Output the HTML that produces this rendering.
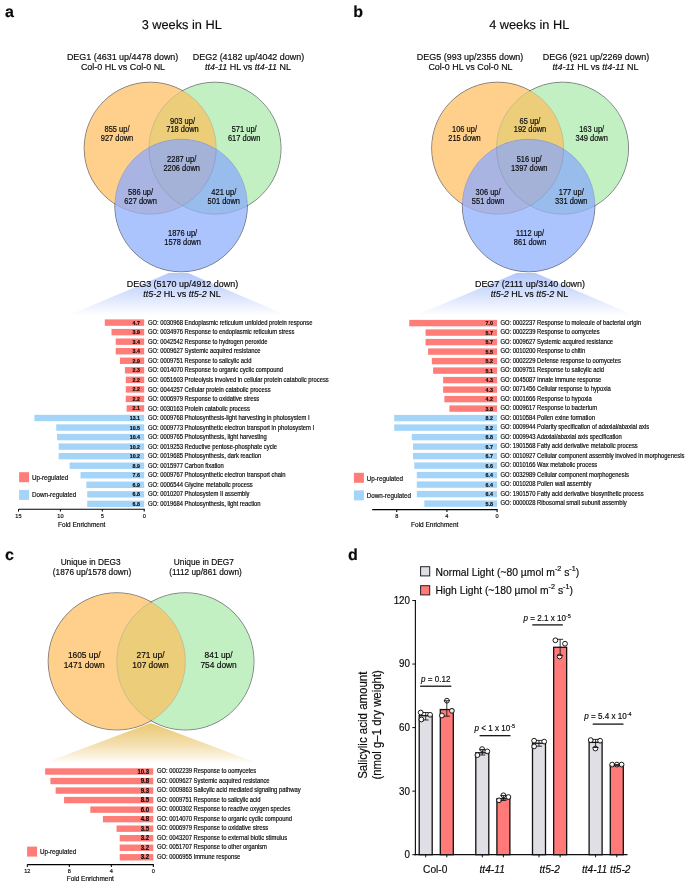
<!DOCTYPE html><html><head><meta charset="utf-8"><style>html,body{margin:0;padding:0;background:#fff;overflow:hidden}svg{display:block;font-family:"Liberation Sans",sans-serif;will-change:transform}text{fill:#0a0a0a;stroke:#0a0a0a;stroke-width:0.16px;transform-box:fill-box;transform-origin:50% 81%;transform:scaleY(1.09)}.ns text{transform:none}</style></head><body>
<svg width="685" height="882" viewBox="0 0 685 882">
<rect width="685" height="882" fill="#fff"/>
<g class="ns" text-rendering="geometricPrecision" font-size="16" font-weight="bold" fill="#000"><text x="4.9" y="17.4">a</text><text x="353.2" y="17.4">b</text><text x="4.9" y="560.2">c</text><text x="347.9" y="560.4">d</text></g>
<g class="ns" text-rendering="geometricPrecision" font-size="12.75" text-anchor="middle" fill="#111"><text x="181.7" y="29">3 weeks in HL</text><text x="529.2" y="29">4 weeks in HL</text></g>
<defs>
<clipPath id="cOa"><circle cx="150.2" cy="148.2" r="66" fill="#000" /></clipPath>
<clipPath id="cGa"><circle cx="215" cy="148.2" r="66" fill="#000" /></clipPath>
<linearGradient id="funa" x1="0" y1="0" x2="0" y2="1"><stop offset="0" stop-color="#B4C8FB"/><stop offset="0.5" stop-color="#D6E1FC"/><stop offset="1" stop-color="#FFFFFF"/></linearGradient>
</defs>
<polygon points="169,273 188,273 287,315.5 68,315.5" fill="url(#funa)"/>
<circle cx="150.2" cy="148.2" r="66" fill="#FED08C" />
<circle cx="215" cy="148.2" r="66" fill="#C2F0C2" />
<circle cx="181.1" cy="205.5" r="66.3" fill="#ACC4FE" />
<g clip-path="url(#cOa)"><circle cx="215" cy="148.2" r="66" fill="#ECCD7A" /><circle cx="181.1" cy="205.5" r="66.3" fill="#AAB4E2" /></g>
<g clip-path="url(#cGa)"><circle cx="181.1" cy="205.5" r="66.3" fill="#98BCEC" /></g>
<g clip-path="url(#cOa)"><g clip-path="url(#cGa)"><circle cx="181.1" cy="205.5" r="66.3" fill="#A4B2D8" /></g></g>
<circle cx="150.2" cy="148.2" r="66" fill="none" stroke="rgba(70,70,110,0.22)" stroke-width="0.8"/>
<circle cx="215" cy="148.2" r="66" fill="none" stroke="rgba(70,70,110,0.22)" stroke-width="0.8"/>
<circle cx="181.1" cy="205.5" r="66.3" fill="none" stroke="rgba(70,70,110,0.22)" stroke-width="0.8"/>
<defs><mask id="outera" maskUnits="userSpaceOnUse" x="0" y="0" width="685" height="882"><rect width="685" height="882" fill="#fff"/><circle cx="150.2" cy="148.2" r="65.55" fill="#000" /><circle cx="215" cy="148.2" r="65.55" fill="#000" /><circle cx="181.1" cy="205.5" r="65.85" fill="#000" /></mask></defs>
<g mask="url(#outera)">
<circle cx="150.2" cy="148.2" r="66" fill="none" stroke="rgba(60,60,60,0.6)" stroke-width="0.9"/>
<circle cx="215" cy="148.2" r="66" fill="none" stroke="rgba(60,60,60,0.6)" stroke-width="0.9"/>
<circle cx="181.1" cy="205.5" r="66.3" fill="none" stroke="rgba(60,60,60,0.6)" stroke-width="0.9"/>
</g>
<g font-size="8.95" text-anchor="middle" fill="#111">
<text x="122.6" y="59.8">DEG1 (4631 up/4478 down)</text>
<text x="123" y="69.6">Col-0 HL vs Col-0 NL</text>
<text x="248.5" y="60">DEG2 (4182 up/4042 down)</text>
<text x="248" y="69.8"><tspan font-style="italic">tt4-11</tspan> HL vs <tspan font-style="italic">tt4-11</tspan> NL</text>
<text x="182.5" y="286.9">DEG3 (5170 up/4912 down)</text>
<text x="182" y="297"><tspan font-style="italic">tt5-2</tspan> HL vs <tspan font-style="italic">tt5-2</tspan> NL</text>
</g>
<g font-size="7.5" text-anchor="middle" fill="#111">
<text x="117" y="132.5">855 up/</text>
<text x="117" y="141.4">927 down</text>
<text x="182.5" y="123.6">903 up/</text>
<text x="182.5" y="132.5">718 down</text>
<text x="244.2" y="132.5">571 up/</text>
<text x="244.2" y="141.4">617 down</text>
<text x="181.7" y="161.9">2287 up/</text>
<text x="181.7" y="170.8">2206 down</text>
<text x="140.6" y="194.7">586 up/</text>
<text x="140.6" y="203.6">627 down</text>
<text x="223.8" y="194.7">421 up/</text>
<text x="223.8" y="203.6">501 down</text>
<text x="182.6" y="236.2">1876 up/</text>
<text x="182.6" y="245.1">1578 down</text>
</g>
<defs>
<clipPath id="cOb"><circle cx="497.7" cy="148.2" r="66" fill="#000" /></clipPath>
<clipPath id="cGb"><circle cx="562.5" cy="148.2" r="66" fill="#000" /></clipPath>
<linearGradient id="funb" x1="0" y1="0" x2="0" y2="1"><stop offset="0" stop-color="#B4C8FB"/><stop offset="0.5" stop-color="#D6E1FC"/><stop offset="1" stop-color="#FFFFFF"/></linearGradient>
</defs>
<polygon points="516.5,273 535.5,273 634.5,315.5 415.5,315.5" fill="url(#funb)"/>
<circle cx="497.7" cy="148.2" r="66" fill="#FED08C" />
<circle cx="562.5" cy="148.2" r="66" fill="#C2F0C2" />
<circle cx="528.6" cy="205.5" r="66.3" fill="#ACC4FE" />
<g clip-path="url(#cOb)"><circle cx="562.5" cy="148.2" r="66" fill="#ECCD7A" /><circle cx="528.6" cy="205.5" r="66.3" fill="#AAB4E2" /></g>
<g clip-path="url(#cGb)"><circle cx="528.6" cy="205.5" r="66.3" fill="#98BCEC" /></g>
<g clip-path="url(#cOb)"><g clip-path="url(#cGb)"><circle cx="528.6" cy="205.5" r="66.3" fill="#A4B2D8" /></g></g>
<circle cx="497.7" cy="148.2" r="66" fill="none" stroke="rgba(70,70,110,0.22)" stroke-width="0.8"/>
<circle cx="562.5" cy="148.2" r="66" fill="none" stroke="rgba(70,70,110,0.22)" stroke-width="0.8"/>
<circle cx="528.6" cy="205.5" r="66.3" fill="none" stroke="rgba(70,70,110,0.22)" stroke-width="0.8"/>
<defs><mask id="outerb" maskUnits="userSpaceOnUse" x="0" y="0" width="685" height="882"><rect width="685" height="882" fill="#fff"/><circle cx="497.7" cy="148.2" r="65.55" fill="#000" /><circle cx="562.5" cy="148.2" r="65.55" fill="#000" /><circle cx="528.6" cy="205.5" r="65.85" fill="#000" /></mask></defs>
<g mask="url(#outerb)">
<circle cx="497.7" cy="148.2" r="66" fill="none" stroke="rgba(60,60,60,0.6)" stroke-width="0.9"/>
<circle cx="562.5" cy="148.2" r="66" fill="none" stroke="rgba(60,60,60,0.6)" stroke-width="0.9"/>
<circle cx="528.6" cy="205.5" r="66.3" fill="none" stroke="rgba(60,60,60,0.6)" stroke-width="0.9"/>
</g>
<g font-size="8.95" text-anchor="middle" fill="#111">
<text x="470.1" y="59.8">DEG5 (993 up/2355 down)</text>
<text x="470.5" y="69.6">Col-0 HL vs Col-0 NL</text>
<text x="596" y="60">DEG6 (921 up/2269 down)</text>
<text x="595.5" y="69.8"><tspan font-style="italic">tt4-11</tspan> HL vs <tspan font-style="italic">tt4-11</tspan> NL</text>
<text x="530" y="286.9">DEG7 (2111 up/3140 down)</text>
<text x="529.5" y="297"><tspan font-style="italic">tt5-2</tspan> HL vs <tspan font-style="italic">tt5-2</tspan> NL</text>
</g>
<g font-size="7.5" text-anchor="middle" fill="#111">
<text x="464.5" y="132.5">106 up/</text>
<text x="464.5" y="141.4">215 down</text>
<text x="530" y="123.6">65 up/</text>
<text x="530" y="132.5">192 down</text>
<text x="591.7" y="132.5">163 up/</text>
<text x="591.7" y="141.4">349 down</text>
<text x="529.2" y="161.9">516 up/</text>
<text x="529.2" y="170.8">1397 down</text>
<text x="488.1" y="194.7">306 up/</text>
<text x="488.1" y="203.6">551 down</text>
<text x="571.3" y="194.7">177 up/</text>
<text x="571.3" y="203.6">331 down</text>
<text x="530.1" y="236.2">1112 up/</text>
<text x="530.1" y="245.1">861 down</text>
</g>
<rect x="104.81" y="319.4" width="39.39" height="6.4" fill="#FF7D78"/>
<text x="140" y="324.6" font-size="5.3" font-weight="bold" text-anchor="end" fill="#111">4.7</text>
<text x="147.9" y="324.7" font-size="5.85" fill="#111">GO: 0030968 Endoplasmic reticulum unfolded protein response</text>
<rect x="111.52" y="328.94" width="32.68" height="6.4" fill="#FF7D78"/>
<text x="140" y="334.14" font-size="5.3" font-weight="bold" text-anchor="end" fill="#111">3.9</text>
<text x="147.9" y="334.24" font-size="5.85" fill="#111">GO: 0034976 Response to endoplasmic reticulum stress</text>
<rect x="115.71" y="338.48" width="28.49" height="6.4" fill="#FF7D78"/>
<text x="140" y="343.68" font-size="5.3" font-weight="bold" text-anchor="end" fill="#111">3.4</text>
<text x="147.9" y="343.78" font-size="5.85" fill="#111">GO: 0042542 Response to hydrogen peroxide</text>
<rect x="115.71" y="348.02" width="28.49" height="6.4" fill="#FF7D78"/>
<text x="140" y="353.22" font-size="5.3" font-weight="bold" text-anchor="end" fill="#111">3.4</text>
<text x="147.9" y="353.32" font-size="5.85" fill="#111">GO: 0009627 Systemic acquired resistance</text>
<rect x="119.9" y="357.56" width="24.3" height="6.4" fill="#FF7D78"/>
<text x="140" y="362.76" font-size="5.3" font-weight="bold" text-anchor="end" fill="#111">2.9</text>
<text x="147.9" y="362.86" font-size="5.85" fill="#111">GO: 0009751 Response to salicylic acid</text>
<rect x="124.93" y="367.1" width="19.27" height="6.4" fill="#FF7D78"/>
<text x="140" y="372.3" font-size="5.3" font-weight="bold" text-anchor="end" fill="#111">2.3</text>
<text x="147.9" y="372.4" font-size="5.85" fill="#111">GO: 0014070 Response to organic cyclic compound</text>
<rect x="125.76" y="376.64" width="18.44" height="6.4" fill="#FF7D78"/>
<text x="140" y="381.84" font-size="5.3" font-weight="bold" text-anchor="end" fill="#111">2.2</text>
<text x="147.9" y="381.94" font-size="5.85" fill="#111">GO: 0051603 Proteolysis involved in cellular protein catabolic process</text>
<rect x="125.76" y="386.18" width="18.44" height="6.4" fill="#FF7D78"/>
<text x="140" y="391.38" font-size="5.3" font-weight="bold" text-anchor="end" fill="#111">2.2</text>
<text x="147.9" y="391.48" font-size="5.85" fill="#111">GO: 0044257 Cellular protein catabolic process</text>
<rect x="125.76" y="395.72" width="18.44" height="6.4" fill="#FF7D78"/>
<text x="140" y="400.92" font-size="5.3" font-weight="bold" text-anchor="end" fill="#111">2.2</text>
<text x="147.9" y="401.02" font-size="5.85" fill="#111">GO: 0006979 Response to oxidative stress</text>
<rect x="126.6" y="405.26" width="17.6" height="6.4" fill="#FF7D78"/>
<text x="140" y="410.46" font-size="5.3" font-weight="bold" text-anchor="end" fill="#111">2.1</text>
<text x="147.9" y="410.56" font-size="5.85" fill="#111">GO: 0030163 Protein catabolic process</text>
<rect x="34.42" y="414.8" width="109.78" height="6.4" fill="#A4D4F8"/>
<text x="140" y="420" font-size="5.3" font-weight="bold" text-anchor="end" fill="#111">13.1</text>
<text x="147.9" y="420.1" font-size="5.85" fill="#111">GO: 0009768 Photosynthesis-light harvesting in photosystem I</text>
<rect x="56.21" y="424.34" width="87.99" height="6.4" fill="#A4D4F8"/>
<text x="140" y="429.54" font-size="5.3" font-weight="bold" text-anchor="end" fill="#111">10.5</text>
<text x="147.9" y="429.64" font-size="5.85" fill="#111">GO: 0009773 Photosynthetic electron transport in photosystem I</text>
<rect x="57.05" y="433.88" width="87.15" height="6.4" fill="#A4D4F8"/>
<text x="140" y="439.08" font-size="5.3" font-weight="bold" text-anchor="end" fill="#111">10.4</text>
<text x="147.9" y="439.18" font-size="5.85" fill="#111">GO: 0009765 Photosynthesis, light harvesting</text>
<rect x="58.72" y="443.42" width="85.48" height="6.4" fill="#A4D4F8"/>
<text x="140" y="448.62" font-size="5.3" font-weight="bold" text-anchor="end" fill="#111">10.2</text>
<text x="147.9" y="448.72" font-size="5.85" fill="#111">GO: 0019253 Reductive pentose-phosphate cycle</text>
<rect x="58.72" y="452.96" width="85.48" height="6.4" fill="#A4D4F8"/>
<text x="140" y="458.16" font-size="5.3" font-weight="bold" text-anchor="end" fill="#111">10.2</text>
<text x="147.9" y="458.26" font-size="5.85" fill="#111">GO: 0019685 Photosynthesis, dark reaction</text>
<rect x="69.62" y="462.5" width="74.58" height="6.4" fill="#A4D4F8"/>
<text x="140" y="467.7" font-size="5.3" font-weight="bold" text-anchor="end" fill="#111">8.9</text>
<text x="147.9" y="467.8" font-size="5.85" fill="#111">GO: 0015977 Carbon fixation</text>
<rect x="80.51" y="472.04" width="63.69" height="6.4" fill="#A4D4F8"/>
<text x="140" y="477.24" font-size="5.3" font-weight="bold" text-anchor="end" fill="#111">7.6</text>
<text x="147.9" y="477.34" font-size="5.85" fill="#111">GO: 0009767 Photosynthetic electron transport chain</text>
<rect x="86.38" y="481.58" width="57.82" height="6.4" fill="#A4D4F8"/>
<text x="140" y="486.78" font-size="5.3" font-weight="bold" text-anchor="end" fill="#111">6.9</text>
<text x="147.9" y="486.88" font-size="5.85" fill="#111">GO: 0006544 Glycine metabolic process</text>
<rect x="87.22" y="491.12" width="56.98" height="6.4" fill="#A4D4F8"/>
<text x="140" y="496.32" font-size="5.3" font-weight="bold" text-anchor="end" fill="#111">6.8</text>
<text x="147.9" y="496.42" font-size="5.85" fill="#111">GO: 0010207 Photosystem II assembly</text>
<rect x="87.22" y="500.66" width="56.98" height="6.4" fill="#A4D4F8"/>
<text x="140" y="505.86" font-size="5.3" font-weight="bold" text-anchor="end" fill="#111">6.8</text>
<text x="147.9" y="505.96" font-size="5.85" fill="#111">GO: 0019684 Photosynthesis, light reaction</text>
<line x1="18.5" y1="509.2" x2="144.7" y2="509.2" stroke="#000" stroke-width="1.1"/>
<line x1="18.5" y1="509.2" x2="18.5" y2="511.6" stroke="#000" stroke-width="1.05"/>
<text x="18.5" y="517.6" font-size="5.6" text-anchor="middle" fill="#111">15</text>
<line x1="60.4" y1="509.2" x2="60.4" y2="511.6" stroke="#000" stroke-width="1.05"/>
<text x="60.4" y="517.6" font-size="5.6" text-anchor="middle" fill="#111">10</text>
<line x1="102.3" y1="509.2" x2="102.3" y2="511.6" stroke="#000" stroke-width="1.05"/>
<text x="102.3" y="517.6" font-size="5.6" text-anchor="middle" fill="#111">5</text>
<line x1="144.2" y1="509.2" x2="144.2" y2="511.6" stroke="#000" stroke-width="1.05"/>
<text x="144.2" y="517.6" font-size="5.6" text-anchor="middle" fill="#111">0</text>
<text x="81.7" y="526.5" font-size="6.5" text-anchor="middle" fill="#111">Fold Enrichment</text>
<rect x="19.1" y="472.2" width="10" height="10" fill="#FF7D78"/>
<text x="31.9" y="480.1" font-size="6.3" fill="#111">Up-regulated</text>
<rect x="19.1" y="489.9" width="10" height="10" fill="#A4D4F8"/>
<text x="31.9" y="497.2" font-size="6.3" fill="#111">Down-regulated</text>
<rect x="409.25" y="319.9" width="87.85" height="6.4" fill="#FF7D78"/>
<text x="492.9" y="325.1" font-size="5.3" font-weight="bold" text-anchor="end" fill="#111">7.0</text>
<text x="500.4" y="324.7" font-size="5.85" fill="#111">GO: 0002237 Response to molecule of bacterial origin</text>
<rect x="425.56" y="329.4" width="71.54" height="6.4" fill="#FF7D78"/>
<text x="492.9" y="334.6" font-size="5.3" font-weight="bold" text-anchor="end" fill="#111">5.7</text>
<text x="500.4" y="334.2" font-size="5.85" fill="#111">GO: 0002239 Response to oomycetes</text>
<rect x="425.56" y="338.9" width="71.54" height="6.4" fill="#FF7D78"/>
<text x="492.9" y="344.1" font-size="5.3" font-weight="bold" text-anchor="end" fill="#111">5.7</text>
<text x="500.4" y="343.7" font-size="5.85" fill="#111">GO: 0009627 Systemic acquired resistance</text>
<rect x="428.08" y="348.4" width="69.03" height="6.4" fill="#FF7D78"/>
<text x="492.9" y="353.6" font-size="5.3" font-weight="bold" text-anchor="end" fill="#111">5.5</text>
<text x="500.4" y="353.2" font-size="5.85" fill="#111">GO: 0010200 Response to chitin</text>
<rect x="431.84" y="357.9" width="65.26" height="6.4" fill="#FF7D78"/>
<text x="492.9" y="363.1" font-size="5.3" font-weight="bold" text-anchor="end" fill="#111">5.2</text>
<text x="500.4" y="362.7" font-size="5.85" fill="#111">GO: 0002229 Defense response to oomycetes</text>
<rect x="433.1" y="367.4" width="64" height="6.4" fill="#FF7D78"/>
<text x="492.9" y="372.6" font-size="5.3" font-weight="bold" text-anchor="end" fill="#111">5.1</text>
<text x="500.4" y="372.2" font-size="5.85" fill="#111">GO: 0009751 Response to salicylic acid</text>
<rect x="443.13" y="376.9" width="53.97" height="6.4" fill="#FF7D78"/>
<text x="492.9" y="382.1" font-size="5.3" font-weight="bold" text-anchor="end" fill="#111">4.3</text>
<text x="500.4" y="381.7" font-size="5.85" fill="#111">GO: 0045087 Innate immune response</text>
<rect x="443.13" y="386.4" width="53.97" height="6.4" fill="#FF7D78"/>
<text x="492.9" y="391.6" font-size="5.3" font-weight="bold" text-anchor="end" fill="#111">4.3</text>
<text x="500.4" y="391.2" font-size="5.85" fill="#111">GO: 0071456 Cellular response to hypoxia</text>
<rect x="444.39" y="395.9" width="52.71" height="6.4" fill="#FF7D78"/>
<text x="492.9" y="401.1" font-size="5.3" font-weight="bold" text-anchor="end" fill="#111">4.2</text>
<text x="500.4" y="400.7" font-size="5.85" fill="#111">GO: 0001666 Response to hypoxia</text>
<rect x="449.41" y="405.4" width="47.69" height="6.4" fill="#FF7D78"/>
<text x="492.9" y="410.6" font-size="5.3" font-weight="bold" text-anchor="end" fill="#111">3.8</text>
<text x="500.4" y="410.2" font-size="5.85" fill="#111">GO: 0009617 Response to bacterium</text>
<rect x="394.19" y="414.9" width="102.91" height="6.4" fill="#A4D4F8"/>
<text x="492.9" y="420.1" font-size="5.3" font-weight="bold" text-anchor="end" fill="#111">8.2</text>
<text x="500.4" y="419.7" font-size="5.85" fill="#111">GO: 0010584 Pollen exine formation</text>
<rect x="394.19" y="424.4" width="102.91" height="6.4" fill="#A4D4F8"/>
<text x="492.9" y="429.6" font-size="5.3" font-weight="bold" text-anchor="end" fill="#111">8.2</text>
<text x="500.4" y="429.2" font-size="5.85" fill="#111">GO: 0009944 Polarity specification of adaxial/abaxial axis</text>
<rect x="411.76" y="433.9" width="85.34" height="6.4" fill="#A4D4F8"/>
<text x="492.9" y="439.1" font-size="5.3" font-weight="bold" text-anchor="end" fill="#111">6.8</text>
<text x="500.4" y="438.7" font-size="5.85" fill="#111">GO: 0009943 Adaxial/abaxial axis specification</text>
<rect x="413.01" y="443.4" width="84.09" height="6.4" fill="#A4D4F8"/>
<text x="492.9" y="448.6" font-size="5.3" font-weight="bold" text-anchor="end" fill="#111">6.7</text>
<text x="500.4" y="448.2" font-size="5.85" fill="#111">GO: 1901568 Fatty acid derivative metabolic process</text>
<rect x="413.01" y="452.9" width="84.09" height="6.4" fill="#A4D4F8"/>
<text x="492.9" y="458.1" font-size="5.3" font-weight="bold" text-anchor="end" fill="#111">6.7</text>
<text x="500.4" y="457.7" font-size="5.85" fill="#111">GO: 0010927 Cellular component assembly involved in morphogenesis</text>
<rect x="414.27" y="462.4" width="82.83" height="6.4" fill="#A4D4F8"/>
<text x="492.9" y="467.6" font-size="5.3" font-weight="bold" text-anchor="end" fill="#111">6.6</text>
<text x="500.4" y="467.2" font-size="5.85" fill="#111">GO: 0010166 Wax metabolic process</text>
<rect x="416.78" y="471.9" width="80.32" height="6.4" fill="#A4D4F8"/>
<text x="492.9" y="477.1" font-size="5.3" font-weight="bold" text-anchor="end" fill="#111">6.4</text>
<text x="500.4" y="476.7" font-size="5.85" fill="#111">GO: 0032989 Cellular component morphogenesis</text>
<rect x="416.78" y="481.4" width="80.32" height="6.4" fill="#A4D4F8"/>
<text x="492.9" y="486.6" font-size="5.3" font-weight="bold" text-anchor="end" fill="#111">6.4</text>
<text x="500.4" y="486.2" font-size="5.85" fill="#111">GO: 0010208 Pollen wall assembly</text>
<rect x="416.78" y="490.9" width="80.32" height="6.4" fill="#A4D4F8"/>
<text x="492.9" y="496.1" font-size="5.3" font-weight="bold" text-anchor="end" fill="#111">6.4</text>
<text x="500.4" y="495.7" font-size="5.85" fill="#111">GO: 1901570 Fatty acid derivative biosynthetic process</text>
<rect x="424.31" y="500.4" width="72.79" height="6.4" fill="#A4D4F8"/>
<text x="492.9" y="505.6" font-size="5.3" font-weight="bold" text-anchor="end" fill="#111">5.8</text>
<text x="500.4" y="505.2" font-size="5.85" fill="#111">GO: 0000028 Ribosomal small subunit assembly</text>
<line x1="372.2" y1="509.6" x2="497.6" y2="509.6" stroke="#000" stroke-width="1.1"/>
<line x1="396.7" y1="509.6" x2="396.7" y2="512" stroke="#000" stroke-width="1.05"/>
<text x="396.7" y="517.6" font-size="5.6" text-anchor="middle" fill="#111">8</text>
<line x1="446.9" y1="509.6" x2="446.9" y2="512" stroke="#000" stroke-width="1.05"/>
<text x="446.9" y="517.6" font-size="5.6" text-anchor="middle" fill="#111">4</text>
<line x1="497.1" y1="509.6" x2="497.1" y2="512" stroke="#000" stroke-width="1.05"/>
<text x="497.1" y="517.6" font-size="5.6" text-anchor="middle" fill="#111">0</text>
<text x="434.7" y="527.1" font-size="6.5" text-anchor="middle" fill="#111">Fold Enrichment</text>
<rect x="353.9" y="472.8" width="10" height="10" fill="#FF7D78"/>
<text x="366.7" y="480.7" font-size="6.3" fill="#111">Up-regulated</text>
<rect x="353.9" y="490.4" width="10" height="10" fill="#A4D4F8"/>
<text x="366.7" y="497.7" font-size="6.3" fill="#111">Down-regulated</text>
<defs><linearGradient id="func" gradientUnits="userSpaceOnUse" x1="0" y1="726" x2="0" y2="764"><stop offset="0" stop-color="#ECCB78"/><stop offset="0.5" stop-color="#F4E0B0"/><stop offset="1" stop-color="#FFFFFF"/></linearGradient></defs>
<polygon points="150.8,723 255.8,762.5 45.8,762.5" fill="url(#func)"/>
<defs><clipPath id="cOc"><circle cx="116.8" cy="661.35" r="68.6"/></clipPath></defs>
<circle cx="116.8" cy="661.35" r="68.6" fill="#FED08C"/>
<circle cx="185.4" cy="661.35" r="68.6" fill="#C2F0C2"/>
<circle cx="185.4" cy="661.35" r="68.6" fill="#ECCD7A" clip-path="url(#cOc)"/>
<circle cx="116.8" cy="661.35" r="68.6" fill="none" stroke="rgba(70,70,110,0.22)" stroke-width="0.8"/>
<circle cx="185.4" cy="661.35" r="68.6" fill="none" stroke="rgba(70,70,110,0.22)" stroke-width="0.8"/>
<defs><mask id="outerc" maskUnits="userSpaceOnUse" x="0" y="0" width="685" height="882"><rect width="685" height="882" fill="#fff"/><circle cx="116.8" cy="661.35" r="68.14999999999999"/><circle cx="185.4" cy="661.35" r="68.14999999999999"/></mask></defs>
<g mask="url(#outerc)">
<circle cx="116.8" cy="661.35" r="68.6" fill="none" stroke="rgba(60,60,60,0.6)" stroke-width="0.9"/>
<circle cx="185.4" cy="661.35" r="68.6" fill="none" stroke="rgba(60,60,60,0.6)" stroke-width="0.9"/>
</g>
<g font-size="8.3" text-anchor="middle" fill="#111"><text x="90.6" y="565.5">Unique in DEG3</text><text x="92" y="575.1">(1876 up/1578 down)</text><text x="203.8" y="565.5">Unique in DEG7</text><text x="205.5" y="575.1">(1112 up/861 down)</text></g>
<g font-size="8.4" text-anchor="middle" fill="#111">
<text x="84.2" y="657.9">1605 up/</text><text x="84.2" y="667.7">1471 down</text>
<text x="150.5" y="657.9">271 up/</text><text x="150.5" y="667.7">107 down</text>
<text x="218.6" y="657.9">841 up/</text><text x="218.6" y="667.7">754 down</text>
</g>
<rect x="45.15" y="768.3" width="108.15" height="6.4" fill="#FF7D78"/>
<text x="149.1" y="773.5" font-size="6" font-weight="bold" text-anchor="end" fill="#111">10.3</text>
<text x="156.9" y="773.1" font-size="5.85" fill="#111">GO: 0002239 Response to oomycetes</text>
<rect x="50.4" y="777.83" width="102.9" height="6.4" fill="#FF7D78"/>
<text x="149.1" y="783.03" font-size="6" font-weight="bold" text-anchor="end" fill="#111">9.8</text>
<text x="156.9" y="782.63" font-size="5.85" fill="#111">GO: 0009627 Systemic acquired resistance</text>
<rect x="55.65" y="787.36" width="97.65" height="6.4" fill="#FF7D78"/>
<text x="149.1" y="792.56" font-size="6" font-weight="bold" text-anchor="end" fill="#111">9.3</text>
<text x="156.9" y="792.16" font-size="5.85" fill="#111">GO: 0009863 Salicylic acid mediated signaling pathway</text>
<rect x="64.05" y="796.89" width="89.25" height="6.4" fill="#FF7D78"/>
<text x="149.1" y="802.09" font-size="6" font-weight="bold" text-anchor="end" fill="#111">8.5</text>
<text x="156.9" y="801.69" font-size="5.85" fill="#111">GO: 0009751 Response to salicylic acid</text>
<rect x="90.3" y="806.42" width="63" height="6.4" fill="#FF7D78"/>
<text x="149.1" y="811.62" font-size="6" font-weight="bold" text-anchor="end" fill="#111">6.0</text>
<text x="156.9" y="811.22" font-size="5.85" fill="#111">GO: 0000302 Response to reactive oxygen species</text>
<rect x="102.9" y="815.95" width="50.4" height="6.4" fill="#FF7D78"/>
<text x="149.1" y="821.15" font-size="6" font-weight="bold" text-anchor="end" fill="#111">4.8</text>
<text x="156.9" y="820.75" font-size="5.85" fill="#111">GO: 0014070 Response to organic cyclic compound</text>
<rect x="116.55" y="825.48" width="36.75" height="6.4" fill="#FF7D78"/>
<text x="149.1" y="830.68" font-size="6" font-weight="bold" text-anchor="end" fill="#111">3.5</text>
<text x="156.9" y="830.28" font-size="5.85" fill="#111">GO: 0006979 Response to oxidative stress</text>
<rect x="119.7" y="835.01" width="33.6" height="6.4" fill="#FF7D78"/>
<text x="149.1" y="840.21" font-size="6" font-weight="bold" text-anchor="end" fill="#111">3.2</text>
<text x="156.9" y="839.81" font-size="5.85" fill="#111">GO: 0043207 Response to external biotic stimulus</text>
<rect x="119.7" y="844.54" width="33.6" height="6.4" fill="#FF7D78"/>
<text x="149.1" y="849.74" font-size="6" font-weight="bold" text-anchor="end" fill="#111">3.2</text>
<text x="156.9" y="849.34" font-size="5.85" fill="#111">GO: 0051707 Response to other organism</text>
<rect x="119.7" y="854.07" width="33.6" height="6.4" fill="#FF7D78"/>
<text x="149.1" y="859.27" font-size="6" font-weight="bold" text-anchor="end" fill="#111">3.2</text>
<text x="156.9" y="858.87" font-size="5.85" fill="#111">GO: 0006955 Immune response</text>
<line x1="27.3" y1="864.6" x2="153.8" y2="864.6" stroke="#000" stroke-width="1.1"/>
<line x1="27.3" y1="864.6" x2="27.3" y2="867" stroke="#000" stroke-width="1.05"/>
<text x="27.3" y="872.6" font-size="5.6" text-anchor="middle" fill="#111">12</text>
<line x1="69.3" y1="864.6" x2="69.3" y2="867" stroke="#000" stroke-width="1.05"/>
<text x="69.3" y="872.6" font-size="5.6" text-anchor="middle" fill="#111">8</text>
<line x1="111.3" y1="864.6" x2="111.3" y2="867" stroke="#000" stroke-width="1.05"/>
<text x="111.3" y="872.6" font-size="5.6" text-anchor="middle" fill="#111">4</text>
<line x1="153.3" y1="864.6" x2="153.3" y2="867" stroke="#000" stroke-width="1.05"/>
<text x="153.3" y="872.6" font-size="5.6" text-anchor="middle" fill="#111">0</text>
<text x="90.3" y="881.2" font-size="6.5" text-anchor="middle" fill="#111">Fold Enrichment</text>
<rect x="27.1" y="846.6" width="10" height="10" fill="#FF7D78"/>
<text x="39.9" y="854.5" font-size="6.3" fill="#111">Up-regulated</text>
<g id="d">
<rect x="420.6" y="566.7" width="9.1" height="9.2" fill="#E0DFE6" stroke="#222" stroke-width="1"/>
<rect x="420.6" y="585.7" width="9.1" height="9.2" fill="#FF7A78" stroke="#222" stroke-width="1"/>
<text x="435.5" y="575.6" font-size="10.35" fill="#111">Normal Light (~80 µmol m<tspan font-size="7.2" dy="-4.2">-2</tspan><tspan dy="4.2"> s</tspan><tspan font-size="7.2" dy="-4.2">-1</tspan><tspan dy="4.2">)</tspan></text>
<text x="435.5" y="593.6" font-size="10.35" fill="#111">High Light (~180 µmol m<tspan font-size="7.2" dy="-4.2">-2</tspan><tspan dy="4.2"> s</tspan><tspan font-size="7.2" dy="-4.2">-1</tspan><tspan dy="4.2">)</tspan></text>
<line x1="415.4" y1="600" x2="415.4" y2="855.3" stroke="#111" stroke-width="1.15"/>
<line x1="414.4" y1="854.7" x2="627.5" y2="854.7" stroke="#111" stroke-width="1.2"/>
<g font-size="9.8" text-anchor="end" fill="#111">
<line x1="412.3" y1="854.7" x2="415" y2="854.7" stroke="#111" stroke-width="1"/>
<text x="410.0" y="858.1">0</text>
<line x1="412.3" y1="791.15" x2="415" y2="791.15" stroke="#111" stroke-width="1"/>
<text x="410.0" y="794.55">30</text>
<line x1="412.3" y1="727.6" x2="415" y2="727.6" stroke="#111" stroke-width="1"/>
<text x="410.0" y="731">60</text>
<line x1="412.3" y1="664.05" x2="415" y2="664.05" stroke="#111" stroke-width="1"/>
<text x="410.0" y="667.45">90</text>
<line x1="412.3" y1="600.5" x2="415" y2="600.5" stroke="#111" stroke-width="1"/>
<text x="410.0" y="603.9">120</text>
</g>
<g transform="translate(367.3,725) rotate(-90)" font-size="11.35" text-anchor="middle" fill="#111"><text x="-0.2" y="0" font-size="11.5">Salicylic acid amount</text><text x="0.1" y="13.7" font-size="11.4">(nmol g–1 dry weight)</text></g>
<rect x="419.2" y="715.7" width="13" height="139" fill="#E0DFE6" stroke="#111" stroke-width="1.3"/>
<circle cx="420.7" cy="712.5" r="2.4" fill="#fff" fill-opacity="0.85" stroke="#111" stroke-width="0.95"/>
<circle cx="430.1" cy="714.8" r="2.4" fill="#fff" fill-opacity="0.85" stroke="#111" stroke-width="0.95"/>
<circle cx="421.4" cy="719.5" r="2.4" fill="#fff" fill-opacity="0.85" stroke="#111" stroke-width="0.95"/>
<line x1="425.7" y1="712.5" x2="425.7" y2="720" stroke="#111" stroke-width="0.85"/>
<line x1="422.7" y1="712.5" x2="428.7" y2="712.5" stroke="#111" stroke-width="0.85"/>
<line x1="422.7" y1="720" x2="428.7" y2="720" stroke="#111" stroke-width="0.85"/>
<line x1="425.7" y1="854.7" x2="425.7" y2="857.3" stroke="#111" stroke-width="1"/>
<rect x="440.3" y="709.56" width="13" height="145.14" fill="#FF7A78" stroke="#111" stroke-width="1.3"/>
<circle cx="446.9" cy="700.7" r="2.4" fill="#fff" fill-opacity="0.85" stroke="#111" stroke-width="0.95"/>
<circle cx="451.9" cy="710.8" r="2.4" fill="#fff" fill-opacity="0.85" stroke="#111" stroke-width="0.95"/>
<circle cx="441.9" cy="715.5" r="2.4" fill="#fff" fill-opacity="0.85" stroke="#111" stroke-width="0.95"/>
<line x1="446.8" y1="700.7" x2="446.8" y2="716.2" stroke="#111" stroke-width="0.85"/>
<line x1="443.8" y1="700.7" x2="449.8" y2="700.7" stroke="#111" stroke-width="0.85"/>
<line x1="443.8" y1="716.2" x2="449.8" y2="716.2" stroke="#111" stroke-width="0.85"/>
<line x1="446.8" y1="854.7" x2="446.8" y2="857.3" stroke="#111" stroke-width="1"/>
<rect x="475.8" y="752.77" width="13" height="101.93" fill="#E0DFE6" stroke="#111" stroke-width="1.3"/>
<circle cx="477.4" cy="755.1" r="2.4" fill="#fff" fill-opacity="0.85" stroke="#111" stroke-width="0.95"/>
<circle cx="482.1" cy="749.1" r="2.4" fill="#fff" fill-opacity="0.85" stroke="#111" stroke-width="0.95"/>
<circle cx="487.3" cy="751.4" r="2.4" fill="#fff" fill-opacity="0.85" stroke="#111" stroke-width="0.95"/>
<line x1="482.3" y1="749.5" x2="482.3" y2="755" stroke="#111" stroke-width="0.85"/>
<line x1="479.3" y1="749.5" x2="485.3" y2="749.5" stroke="#111" stroke-width="0.85"/>
<line x1="479.3" y1="755" x2="485.3" y2="755" stroke="#111" stroke-width="0.85"/>
<line x1="482.3" y1="854.7" x2="482.3" y2="857.3" stroke="#111" stroke-width="1"/>
<rect x="496.9" y="798.74" width="13" height="55.96" fill="#FF7A78" stroke="#111" stroke-width="1.3"/>
<circle cx="499" cy="800.3" r="2.4" fill="#fff" fill-opacity="0.85" stroke="#111" stroke-width="0.95"/>
<circle cx="503.4" cy="795.3" r="2.4" fill="#fff" fill-opacity="0.85" stroke="#111" stroke-width="0.95"/>
<circle cx="508.4" cy="797" r="2.4" fill="#fff" fill-opacity="0.85" stroke="#111" stroke-width="0.95"/>
<line x1="503.4" y1="795.5" x2="503.4" y2="800.5" stroke="#111" stroke-width="0.85"/>
<line x1="500.4" y1="795.5" x2="506.4" y2="795.5" stroke="#111" stroke-width="0.85"/>
<line x1="500.4" y1="800.5" x2="506.4" y2="800.5" stroke="#111" stroke-width="0.85"/>
<line x1="503.4" y1="854.7" x2="503.4" y2="857.3" stroke="#111" stroke-width="1"/>
<rect x="532.5" y="743.24" width="13" height="111.46" fill="#E0DFE6" stroke="#111" stroke-width="1.3"/>
<circle cx="534.1" cy="740.7" r="2.4" fill="#fff" fill-opacity="0.85" stroke="#111" stroke-width="0.95"/>
<circle cx="544.2" cy="741.6" r="2.4" fill="#fff" fill-opacity="0.85" stroke="#111" stroke-width="0.95"/>
<circle cx="534.1" cy="746.4" r="2.4" fill="#fff" fill-opacity="0.85" stroke="#111" stroke-width="0.95"/>
<line x1="539" y1="740.4" x2="539" y2="746.2" stroke="#111" stroke-width="0.85"/>
<line x1="536" y1="740.4" x2="542" y2="740.4" stroke="#111" stroke-width="0.85"/>
<line x1="536" y1="746.2" x2="542" y2="746.2" stroke="#111" stroke-width="0.85"/>
<line x1="539" y1="854.7" x2="539" y2="857.3" stroke="#111" stroke-width="1"/>
<rect x="553.65" y="647.28" width="13" height="207.42" fill="#FF7A78" stroke="#111" stroke-width="1.3"/>
<circle cx="555.4" cy="640.3" r="2.4" fill="#fff" fill-opacity="0.85" stroke="#111" stroke-width="0.95"/>
<circle cx="565" cy="643.7" r="2.4" fill="#fff" fill-opacity="0.85" stroke="#111" stroke-width="0.95"/>
<circle cx="559.6" cy="656.5" r="2.4" fill="#fff" fill-opacity="0.85" stroke="#111" stroke-width="0.95"/>
<line x1="560.15" y1="639.3" x2="560.15" y2="655.4" stroke="#111" stroke-width="0.85"/>
<line x1="557.15" y1="639.3" x2="563.15" y2="639.3" stroke="#111" stroke-width="0.85"/>
<line x1="557.15" y1="655.4" x2="563.15" y2="655.4" stroke="#111" stroke-width="0.85"/>
<line x1="560.15" y1="854.7" x2="560.15" y2="857.3" stroke="#111" stroke-width="1"/>
<rect x="589.1" y="742.39" width="13" height="112.31" fill="#E0DFE6" stroke="#111" stroke-width="1.3"/>
<circle cx="590.7" cy="740.1" r="2.4" fill="#fff" fill-opacity="0.85" stroke="#111" stroke-width="0.95"/>
<circle cx="600.1" cy="740.7" r="2.4" fill="#fff" fill-opacity="0.85" stroke="#111" stroke-width="0.95"/>
<circle cx="595.4" cy="748.5" r="2.4" fill="#fff" fill-opacity="0.85" stroke="#111" stroke-width="0.95"/>
<line x1="595.6" y1="739.4" x2="595.6" y2="747.5" stroke="#111" stroke-width="0.85"/>
<line x1="592.6" y1="739.4" x2="598.6" y2="739.4" stroke="#111" stroke-width="0.85"/>
<line x1="592.6" y1="747.5" x2="598.6" y2="747.5" stroke="#111" stroke-width="0.85"/>
<line x1="595.6" y1="854.7" x2="595.6" y2="857.3" stroke="#111" stroke-width="1"/>
<rect x="610.3" y="765.48" width="13" height="89.22" fill="#FF7A78" stroke="#111" stroke-width="1.3"/>
<circle cx="612.2" cy="764.6" r="2.4" fill="#fff" fill-opacity="0.85" stroke="#111" stroke-width="0.95"/>
<circle cx="616.9" cy="764.6" r="2.4" fill="#fff" fill-opacity="0.85" stroke="#111" stroke-width="0.95"/>
<circle cx="621.6" cy="764.6" r="2.4" fill="#fff" fill-opacity="0.85" stroke="#111" stroke-width="0.95"/>
<line x1="616.8" y1="764.6" x2="616.8" y2="765.4" stroke="#111" stroke-width="0.85"/>
<line x1="613.8" y1="764.6" x2="619.8" y2="764.6" stroke="#111" stroke-width="0.85"/>
<line x1="613.8" y1="765.4" x2="619.8" y2="765.4" stroke="#111" stroke-width="0.85"/>
<line x1="616.8" y1="854.7" x2="616.8" y2="857.3" stroke="#111" stroke-width="1"/>
<g font-size="10.2" text-anchor="middle" fill="#111"><text x="435.2" y="872.6">Col-0</text><text x="492.2" y="872.6" font-style="italic">tt4-11</text><text x="549.7" y="872.6" font-style="italic">tt5-2</text><text x="606.2" y="872.6" font-style="italic">tt4-11 tt5-2</text></g>
<text x="421" y="681.6" font-size="8.1" fill="#111"><tspan font-style="italic">p</tspan> = 0.12</text>
<line x1="420.1" y1="686.2" x2="451.3" y2="686.2" stroke="#000" stroke-width="1.2"/>
<text x="474.4" y="731.2" font-size="8.1" fill="#111"><tspan font-style="italic">p</tspan> &lt; 1 x 10<tspan font-size="5.4" dy="-3.3">-5</tspan></text>
<line x1="479.6" y1="735.7" x2="510.5" y2="735.7" stroke="#000" stroke-width="1.2"/>
<text x="523.5" y="621.4" font-size="8.1" fill="#111"><tspan font-style="italic">p</tspan> = 2.1 x 10<tspan font-size="5.4" dy="-3.3">-5</tspan></text>
<line x1="532.3" y1="624.9" x2="562.8" y2="624.9" stroke="#000" stroke-width="1.2"/>
<text x="584.2" y="719.4" font-size="8.1" fill="#111"><tspan font-style="italic">p</tspan> = 5.4 x 10<tspan font-size="5.4" dy="-3.3">-4</tspan></text>
<line x1="592.7" y1="724.1" x2="623.5" y2="724.1" stroke="#000" stroke-width="1.2"/>
</g>
</svg></body></html>
